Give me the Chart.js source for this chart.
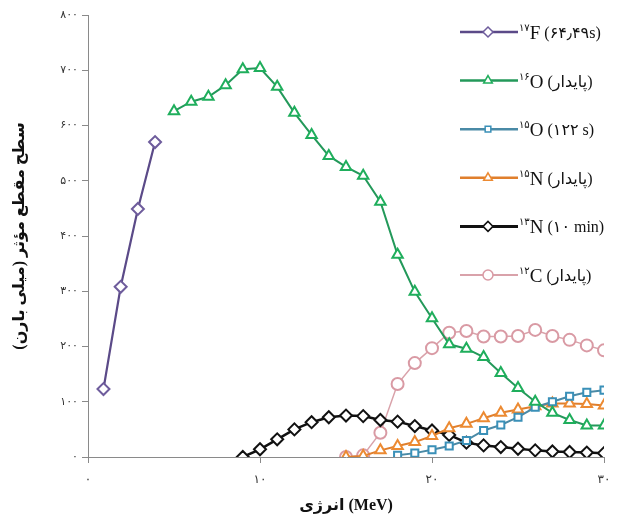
<!DOCTYPE html>
<html>
<head>
<meta charset="utf-8">
<script src="https://cdn.jsdelivr.net/npm/chart.js@4.4.1/dist/chart.umd.min.js"></script>
<style>
  html, body { margin: 0; padding: 0; background: #fff; }
  #wrap { width: 627px; height: 521px; }
</style>
</head>
<body>
<div id="wrap"><canvas id="chart"></canvas></div>
<script>
// energies (MeV) and cross sections (mb)
const energyF17 = [0.9, 1.9, 2.9, 3.9];
const sigmaF17 = [123, 308, 449, 570];

const energyO16 = [5, 6, 7, 8, 9, 10, 11, 12, 13, 14, 15, 16, 17, 18, 19, 20, 21, 22, 23, 24, 25, 26, 27, 28, 29, 30];
const sigmaO16 = [626, 643, 652, 673, 702, 704, 670, 623, 583, 545, 525, 509, 462, 366, 299, 251, 204, 196, 181, 152, 125, 100, 80, 67, 57, 57];

const energyO15 = [18, 19, 20, 21, 22, 23, 24, 25, 26, 27, 28, 29, 30];
const sigmaO15 = [3, 7, 13, 20, 30, 48, 58, 72, 90, 100, 110, 117, 121];

const energyN15 = [15, 16, 17, 18, 19, 20, 21, 22, 23, 24, 25, 26, 27, 28, 29, 30];
const sigmaN15 = [0, 2, 12, 20, 27, 38, 52, 60, 70, 80, 86, 92, 97, 97, 96, 93];

const energyN13 = [9, 10, 11, 12, 13, 14, 15, 16, 17, 18, 19, 20, 21, 22, 23, 24, 25, 26, 27, 28, 29, 30];
const sigmaN13 = [0, 14, 32, 50, 63, 72, 75, 74, 67, 64, 56, 48, 40, 26, 21, 18, 15, 12, 10, 9, 8, 7];

const energyC12 = [15, 16, 17, 18, 19, 20, 21, 22, 23, 24, 25, 26, 27, 28, 29, 30];
const sigmaC12 = [0, 3, 44, 132, 170, 197, 225, 228, 218, 218, 219, 230, 219, 212, 202, 193];

const legendMass = ['۱۷', '۱۶', '۱۵', '۱۵', '۱۳', '۱۲'];
const legendSymbol = ['F', 'O', 'O', 'N', 'N', 'C'];
const legendNote = ['(۶۴٫۴۹s)', '(پایدار)', '(۱۲۲ s)', '(پایدار)', '(۱۰ min)', '(پایدار)'];

const xTitle = 'انرژی (MeV)';
const yTitle = '\u200Fسطح مقطع مؤثر (میلی بارن)\u200F';

const FONT = "'Liberation Serif', 'DejaVu Sans', serif";
const faDigits = '۰۱۲۳۴۵۶۷۸۹';
function toFa(v) {
    return String(v).replace(/[0-9]/g, d => faDigits[d]);
}

function pts(xs, ys) {
    return xs.map((x, i) => ({x: x, y: ys[i]}));
}

function series(xs, ys, line, marker, style, radius, width) {
    return {
        data: pts(xs, ys),
        borderColor: line,
        borderWidth: width,
        pointStyle: style,
        pointRadius: radius,
        pointBorderColor: marker,
        pointBackgroundColor: '#fff',
        pointBorderWidth: 2,
        tension: 0
    };
}

const datasets = [
    series(energyF17, sigmaF17, '#5b4a88', '#6e5c9c', 'rectRot', 6, 2.2),
    series(energyO16, sigmaO16, '#23995a', '#1fae5c', 'triangle', 6, 2),
    series(energyO15, sigmaO15, '#4a8aa6', '#3a90b8', 'rect', 5, 2),
    series(energyN15, sigmaN15, '#e07f2c', '#ec8a32', 'triangle', 6, 2),
    series(energyN13, sigmaN13, '#111111', '#111111', 'rectRot', 6, 2.5),
    series(energyC12, sigmaC12, '#d9a2aa', '#d99aa4', 'circle', 6, 1.5)
];

// legend with superscript mass numbers, drawn top right over the plot
const isoLegend = {
    id: 'isoLegend',
    afterDraw(chart) {
        const ctx = chart.ctx;
        chart.data.datasets.forEach((ds, i) => {
            const y = 32 + i * 48.6;
            ctx.save();
            ctx.strokeStyle = ds.borderColor;
            ctx.lineWidth = ds.borderWidth + 0.5;
            ctx.beginPath();
            ctx.moveTo(460, y);
            ctx.lineTo(518, y);
            ctx.stroke();
            ctx.fillStyle = '#fff';
            ctx.strokeStyle = ds.pointBorderColor;
            ctx.lineWidth = 1.5;
            Chart.helpers.drawPoint(ctx, {pointStyle: ds.pointStyle, radius: ds.pointRadius - 1, borderWidth: 1.5, rotation: 0}, 488, y);

            ctx.fillStyle = '#111';
            ctx.textAlign = 'left';
            ctx.textBaseline = 'alphabetic';
            ctx.font = '10px ' + FONT;
            ctx.fillText(legendMass[i], 519, y - 1);
            let x = 519 + ctx.measureText(legendMass[i]).width;
            ctx.font = '19px ' + FONT;
            ctx.fillText(legendSymbol[i], x, y + 7);
            x += ctx.measureText(legendSymbol[i]).width + 4;
            ctx.font = '16px ' + FONT;
            ctx.fillText(legendNote[i], x, y + 6);
            ctx.restore();
        });
    }
};

new Chart(document.getElementById('chart'), {
    type: 'line',
    data: {datasets: datasets},
    options: {
        responsive: true,
        maintainAspectRatio: false,
        animation: false,
        layout: {padding: {top: 15, right: 23, left: 0, bottom: 0}},
        plugins: {
            legend: {display: false},
            tooltip: {enabled: false}
        },
        scales: {
            x: {
                type: 'linear',
                min: 0,
                max: 30,
                ticks: {
                    stepSize: 10,
                    callback: v => toFa(v),
                    color: '#333',
                    font: {size: 12, family: FONT},
                    padding: 10,
                    maxRotation: 0
                },
                grid: {display: true, drawOnChartArea: false, drawTicks: true, tickLength: 6, color: '#8a8a8a'},
                border: {color: '#8a8a8a', width: 1},
                title: {
                    display: true,
                    text: xTitle,
                    color: '#111',
                    font: {size: 16, weight: 'bold', family: FONT},
                    padding: {top: 4, bottom: 6}
                },
                afterFit: s => { s.height = 64; }
            },
            y: {
                min: 0,
                max: 800,
                ticks: {
                    stepSize: 100,
                    callback: v => toFa(v),
                    color: '#333',
                    font: {size: 11, family: FONT},
                    padding: 4
                },
                grid: {display: true, drawOnChartArea: false, drawTicks: true, tickLength: 6, color: '#8a8a8a'},
                border: {color: '#8a8a8a', width: 1},
                title: {
                    display: true,
                    text: yTitle,
                    color: '#111',
                    font: {size: 16, weight: 'bold', family: FONT},
                    padding: {top: 10, bottom: 4}
                },
                afterFit: s => { s.width = 88; }
            }
        }
    },
    plugins: [isoLegend]
});
</script>
</body>
</html>
